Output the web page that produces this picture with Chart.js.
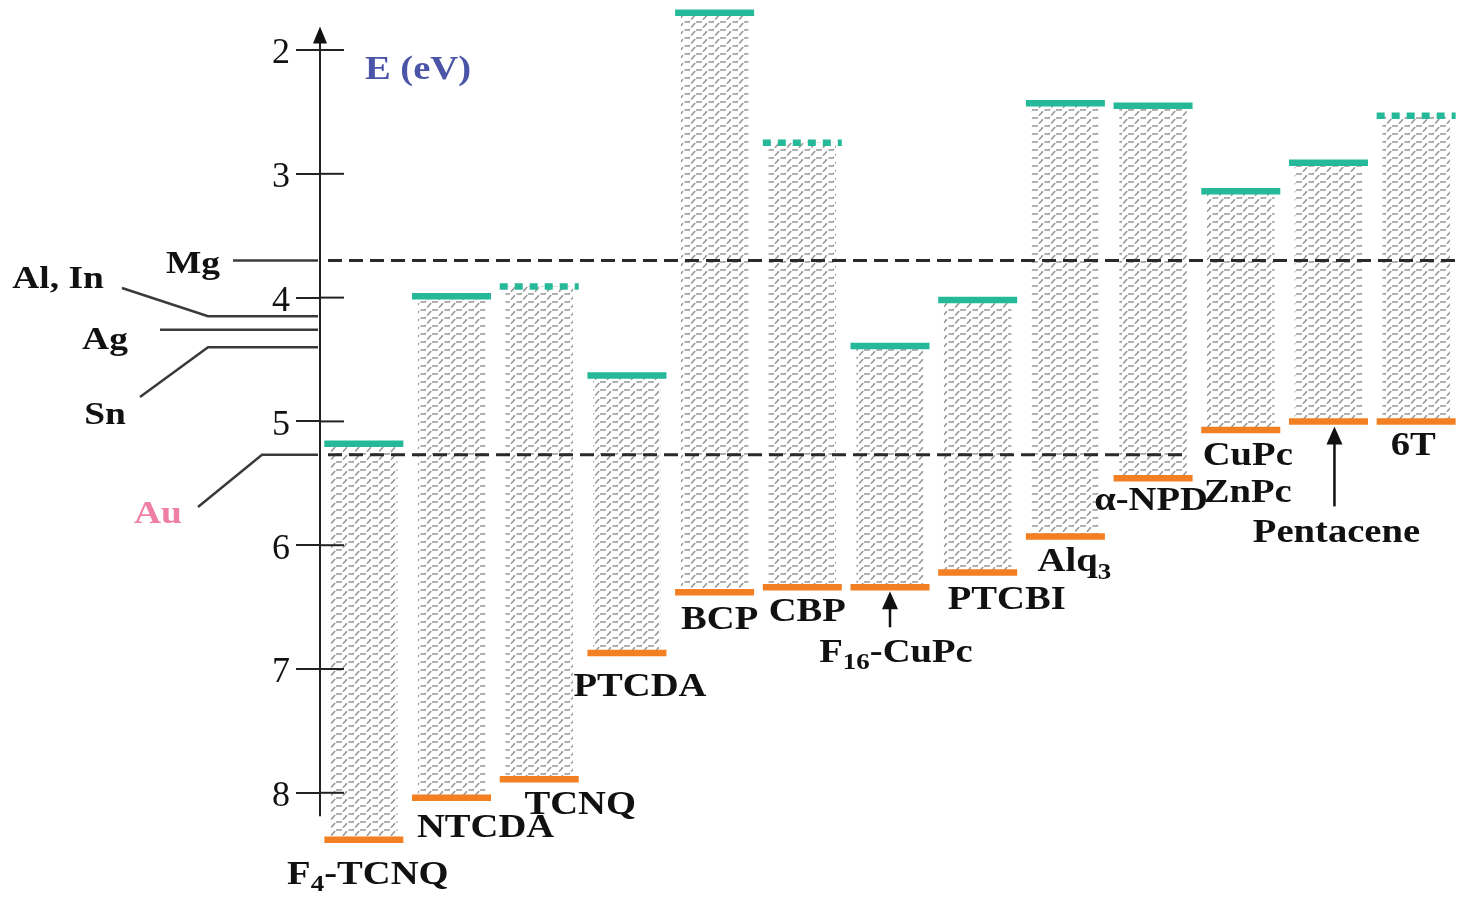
<!DOCTYPE html>
<html>
<head>
<meta charset="utf-8">
<title>Energy levels of organic semiconductors</title>
<script src="https://cdn.jsdelivr.net/npm/chart.js@4.4.1/dist/chart.umd.min.js"></script>
<style>
  html, body { margin: 0; padding: 0; background: #fff; }
  #wrap { width: 1460px; height: 901px; }
</style>
</head>
<body>
<div id="wrap"><canvas id="chart"></canvas></div>
<script>
// Energy level diagram: LUMO / HOMO of organic materials vs metal work functions (eV)

// '_' marks a subscript run, '\n' a second line
const materials = ['F_4-TCNQ', 'NTCDA', 'TCNQ', 'PTCDA', 'BCP', 'CBP', 'F_16-CuPc', 'PTCBI', 'Alq_3', 'α-NPD', 'CuPc\nZnPc', 'Pentacene', '6T'];
const lumo = [5.18, 3.99, 3.91, 4.63, 1.70, 2.75, 4.39, 4.02, 2.43, 2.45, 3.14, 2.91, 2.53];
const homo = [8.38, 8.04, 7.89, 6.87, 6.38, 6.34, 6.34, 6.22, 5.93, 5.46, 5.07, 5.00, 5.00];
const lumoDotted = [false, false, true, false, false, true, false, false, false, false, false, false, true];
const yTicks = [2, 3, 4, 5, 6, 7, 8];

const metals = ['Mg', 'Al, In', 'Ag', 'Sn', 'Au'];
const workFunction = [3.70, 4.15, 4.26, 4.40, 5.27];

// colours
const teal = '#25b899';
const orange = '#f27f22';
const ink = '#111';

// label placement, px relative to bar centre and HOMO line
const labelPlacement = [
    { dx: 4, dy: 33 },
    { dx: 34, dy: 28 },
    { dx: 41, dy: 24 },
    { dx: 13, dy: 32 },
    { dx: 5, dy: 26 },
    { dx: 5, dy: 23 },
    { dx: 6, dy: 64, arrow: [40, 4], arrowDx: 0 },
    { dx: 29, dy: 26 },
    { dx: 9, dy: 24 },
    { dx: -2, dy: 21 },
    { dx: 7, dy: 24 },
    { dx: 8, dy: 110, arrow: [85, 5], arrowDx: 6 },
    { dx: -3, dy: 23 }
];

// metal call-outs on the left of the axis (pixel positions of label and line start)
const metalPlacement = [
    { lx: 193, ly: 262, sx: 233, dashTo: 'end' },
    { lx: 58, ly: 277, sx: 122, sy: 288, elbow: 208 },
    { lx: 105, ly: 338, sx: 160 },
    { lx: 105, ly: 413, sx: 140, sy: 397, elbow: 208 },
    { lx: 158, ly: 512, sx: 198, sy: 507, elbow: 262, dashTo: 9, color: '#ef7fa2' }
];

// staircase hatch, like the scanned fill of the bands
function hatchPattern(ctx) {
    const c = document.createElement('canvas');
    c.width = 24; c.height = 16;
    const g = c.getContext('2d');
    g.strokeStyle = '#989898';
    g.lineWidth = 1.6;
    g.setLineDash([6, 2]);
    for (let k = -3; k <= 3; k++) {
        const o = k * 8;
        g.beginPath();
        g.moveTo(0, 14 + o);
        g.lineTo(5, 14 + o);
        g.lineTo(12, 6 + o);
        g.lineTo(17, 6 + o);
        g.lineTo(24, -2 + o);
        g.stroke();
    }
    return ctx.createPattern(c, 'repeat');
}

// bold serif text with subscripts, stretched a little like the original
function drawRich(ctx, text, cx, cy, size, color) {
    const parts = [];
    text.replace(/_(\d+)|[^_]+/g, (m, sub) => { parts.push(sub ? { t: sub, sub: true } : { t: m, sub: false }); return m; });
    const big = `bold ${size}px "Liberation Serif", "Times New Roman", serif`;
    const small = `bold ${Math.round(size * 0.7)}px "Liberation Serif", "Times New Roman", serif`;
    let total = 0;
    parts.forEach(p => { ctx.font = p.sub ? small : big; p.w = ctx.measureText(p.t).width; total += p.w; });
    ctx.save();
    ctx.translate(cx, cy + size * 0.33);
    ctx.scale(1.17, 1);
    ctx.fillStyle = color;
    ctx.textBaseline = 'alphabetic';
    ctx.textAlign = 'left';
    let x = -total / 2;
    parts.forEach(p => {
        ctx.font = p.sub ? small : big;
        ctx.fillText(p.t, x, p.sub ? size * 0.22 : 0);
        x += p.w;
    });
    ctx.restore();
}

function arrowUp(ctx, x, yFrom, yTo) {
    ctx.strokeStyle = ink;
    ctx.fillStyle = ink;
    ctx.lineWidth = 2.5;
    ctx.setLineDash([]);
    ctx.beginPath();
    ctx.moveTo(x, yFrom);
    ctx.lineTo(x, yTo + 12);
    ctx.stroke();
    ctx.beginPath();
    ctx.moveTo(x, yTo);
    ctx.lineTo(x - 8, yTo + 18);
    ctx.lineTo(x + 8, yTo + 18);
    ctx.closePath();
    ctx.fill();
}

const diagramPlugin = {
    id: 'diagram',
    afterDatasetsDraw(chart) {
        const { ctx, chartArea } = chart;
        const y = chart.scales.y;
        const bars = chart.getDatasetMeta(0).data;
        const axisX = chartArea.left;
        ctx.save();

        // metal work functions
        metals.forEach((name, i) => {
            const p = metalPlacement[i];
            const yy = y.getPixelForValue(workFunction[i]);
            ctx.strokeStyle = '#3a3a3a';
            ctx.lineWidth = 2.5;
            ctx.setLineDash([]);
            ctx.beginPath();
            ctx.moveTo(p.sx, p.sy !== undefined ? p.sy : yy);
            if (p.elbow) ctx.lineTo(p.elbow, yy);
            ctx.lineTo(axisX - 2, yy);
            ctx.stroke();
            if (p.dashTo !== undefined) {
                const end = p.dashTo === 'end' ? chartArea.right - 2 : bars[p.dashTo].x + bars[p.dashTo].width / 2;
                ctx.strokeStyle = '#2a2a2a';
                ctx.lineWidth = 3;
                ctx.setLineDash([14, 7]);
                ctx.beginPath();
                ctx.moveTo(axisX + 8, yy);
                ctx.lineTo(end, yy);
                ctx.stroke();
            }
            drawRich(ctx, name, p.lx, p.ly, 32, p.color || ink);
        });

        // LUMO and HOMO levels
        bars.forEach((bar, i) => {
            const half = bar.width * 0.585;
            const yl = y.getPixelForValue(lumo[i]);
            const yh = y.getPixelForValue(homo[i]);
            ctx.lineWidth = 6.5;
            ctx.lineCap = 'butt';
            ctx.strokeStyle = teal;
            ctx.setLineDash(lumoDotted[i] ? [8, 7] : []);
            ctx.beginPath();
            ctx.moveTo(bar.x - half, yl);
            ctx.lineTo(bar.x + half, yl);
            ctx.stroke();
            ctx.strokeStyle = orange;
            ctx.setLineDash([]);
            ctx.beginPath();
            ctx.moveTo(bar.x - half, yh);
            ctx.lineTo(bar.x + half, yh);
            ctx.stroke();

            const lp = labelPlacement[i];
            materials[i].split('\n').forEach((line, k) => {
                drawRich(ctx, line, bar.x + lp.dx, yh + lp.dy + k * 37, 33, ink);
            });
            if (lp.arrow) {
                arrowUp(ctx, bar.x + lp.arrowDx, yh + lp.arrow[0], yh + lp.arrow[1]);
            }
        });

        // energy axis with arrow and ticks through it
        ctx.strokeStyle = '#222';
        ctx.fillStyle = '#111';
        ctx.lineWidth = 2;
        ctx.setLineDash([]);
        const top = y.getPixelForValue(1.81);
        ctx.beginPath();
        ctx.moveTo(axisX, top + 10);
        ctx.lineTo(axisX, y.getPixelForValue(8.19));
        ctx.stroke();
        ctx.beginPath();
        ctx.moveTo(axisX, top);
        ctx.lineTo(axisX - 7, top + 17);
        ctx.lineTo(axisX + 7, top + 17);
        ctx.closePath();
        ctx.fill();
        yTicks.forEach(v => {
            const ty = y.getPixelForValue(v);
            ctx.beginPath();
            ctx.moveTo(axisX, ty);
            ctx.lineTo(axisX + 24, ty);
            ctx.stroke();
        });

        drawRich(ctx, 'E (eV)', 418, 68, 33, '#4b55a8');
        ctx.restore();
    }
};

const ctx = document.getElementById('chart').getContext('2d');

new Chart(ctx, {
    type: 'bar',
    data: {
        labels: materials,
        datasets: [{
            data: lumo.map((l, i) => [l, homo[i]]),
            backgroundColor: hatchPattern(ctx),
            borderWidth: 0,
            barPercentage: 0.77,
            categoryPercentage: 1
        }]
    },
    options: {
        responsive: true,
        maintainAspectRatio: false,
        animation: false,
        layout: { padding: 0 },
        plugins: {
            legend: { display: false },
            tooltip: { enabled: false }
        },
        scales: {
            x: { display: false },
            y: {
                reverse: true,
                min: 1.596,
                max: 8.874,
                afterFit(scale) {
                    scale.width = 320;
                    scale.paddingTop = 0;
                    scale.paddingBottom = 0;
                },
                afterBuildTicks(scale) { scale.ticks = yTicks.map(v => ({ value: v })); },
                ticks: {
                    color: '#111',
                    padding: 6,
                    labelOffset: 4,
                    font: { family: '"Liberation Serif", "Times New Roman", serif', size: 36 }
                },
                grid: {
                    drawOnChartArea: false,
                    tickLength: 24,
                    color: '#222',
                    lineWidth: 2
                },
                border: { display: false }
            }
        }
    },
    plugins: [diagramPlugin]
});
</script>
</body>
</html>
